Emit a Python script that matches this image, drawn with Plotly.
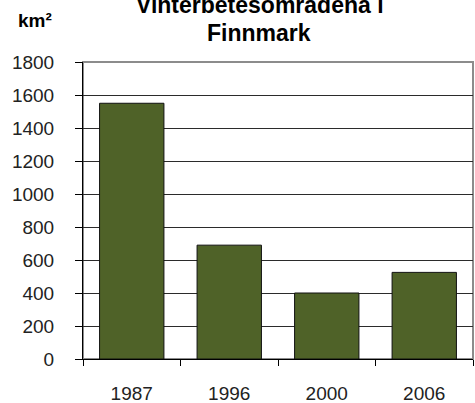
import plotly.graph_objects as go

years = ["1987", "1996", "2000", "2006"]
area_km2 = [1550, 690, 400, 525]
y_ticks = [0, 200, 400, 600, 800, 1000, 1200, 1400, 1600, 1800]

title_line1 = "Vinterbetesområdena i"
title_line2 = "Finnmark"
unit_label = "km²"

FONT = "Liberation Sans, Arial, sans-serif"
L, R, T, B = 83, 2, 62, 44
W, H = 475, 403
plot_w = W - L - R
plot_h = H - T - B


def px_to_paper_x(px):
    return (px - L) / plot_w


def px_to_paper_y(py):
    return (H - B - py) / plot_h


fig = go.Figure(
    go.Bar(
        x=years,
        y=area_km2,
        marker=dict(color="#4F6228", line=dict(color="#111111", width=1)),
        width=0.66,
    )
)

fig.update_layout(
    width=W,
    height=H,
    margin=dict(l=L, r=R, t=T, b=B, pad=0, autoexpand=False),
    paper_bgcolor="white",
    plot_bgcolor="white",
    showlegend=False,
    font=dict(family=FONT, size=19, color="#222222"),
    bargap=0.34,
    shapes=[
        dict(
            type="rect",
            xref="x domain",
            yref="y domain",
            x0=0,
            x1=1,
            y0=0,
            y1=1,
            line=dict(color="#8c8c8c", width=2),
            layer="below",
        )
    ],
    annotations=[
        dict(
            text="<b>" + title_line1 + "</b>",
            xref="paper",
            yref="paper",
            x=px_to_paper_x(260),
            y=px_to_paper_y(20),
            xanchor="center",
            yanchor="bottom",
            showarrow=False,
            font=dict(family=FONT, size=23, color="black"),
        ),
        dict(
            text="<b>" + title_line2 + "</b>",
            xref="paper",
            yref="paper",
            x=px_to_paper_x(259),
            y=px_to_paper_y(48),
            xanchor="center",
            yanchor="bottom",
            showarrow=False,
            font=dict(family=FONT, size=23, color="black"),
        ),
        dict(
            text="<b>" + unit_label + "</b>",
            xref="paper",
            yref="paper",
            x=px_to_paper_x(16),
            y=px_to_paper_y(33.5),
            xanchor="left",
            yanchor="bottom",
            showarrow=False,
            font=dict(family=FONT, size=19, color="black"),
        ),
    ],
)

fig.update_xaxes(
    type="category",
    automargin=False,
    showline=True,
    linecolor="black",
    linewidth=1,
    ticks="outside",
    ticklen=6,
    tickcolor="black",
    tickson="boundaries",
    showgrid=False,
    ticklabelstandoff=17,
    tickfont=dict(family=FONT, size=19, color="#222222"),
)

fig.update_yaxes(
    automargin=False,
    range=[0, 1800],
    tickvals=y_ticks,
    showline=True,
    linecolor="black",
    linewidth=1,
    ticks="outside",
    ticklen=7,
    tickcolor="black",
    showgrid=True,
    gridcolor="#2b2b2b",
    gridwidth=1,
    zeroline=False,
    ticklabelstandoff=17,
    tickfont=dict(family=FONT, size=19, color="#222222"),
)

fig.write_html(
    "out.html",
    config={"displayModeBar": False},
    post_script="document.body.style.margin='0';document.body.style.overflow='hidden';",
)
